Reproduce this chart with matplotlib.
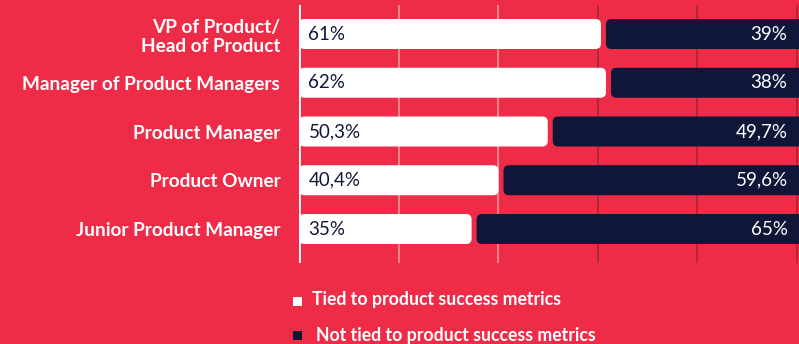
import matplotlib.pyplot as plt
from matplotlib.patches import FancyBboxPatch, Rectangle

categories = ["VP of Product/\nHead of Product", "Manager of Product Managers",
              "Product Manager", "Product Owner", "Junior Product Manager"]
tied = [61, 62, 50.3, 40.4, 35]
not_tied = [39, 38, 49.7, 59.6, 65]
tied_labels = ["61%", "62%", "50,3%", "40,4%", "35%"]
not_tied_labels = ["39%", "38%", "49,7%", "59,6%", "65%"]

RED = "#EE2C48"
NAVY = "#0F1638"

plt.rcParams['font.family'] = ['Lato', 'DejaVu Sans']

fig = plt.figure(figsize=(7.99, 3.44), dpi=100)
fig.patch.set_facecolor(RED)
ax = fig.add_axes([299 / 799, 1 - 263 / 344, 500 / 799, 258 / 344])
ax.set_facecolor(RED)
ax.set_xlim(0, 100.5)
ax.set_ylim(4.697, -0.595)

# gridlines
for g in [20, 40]:
    ax.axvline(g, color="#F7939F", lw=1.2, zorder=0)
for g in [60, 80, 100]:
    ax.axvline(g, color="#A3263E", lw=1.2, zorder=0)
ax.axvline(0, color="white", lw=2, zorder=3)

h = 0.615
asp = (1 / 48.75) / (1 / 4.975)
for i, (t, n) in enumerate(zip(tied, not_tied)):
    ax.add_patch(FancyBboxPatch((0, i - h / 2), t - 0.3, h,
                                boxstyle="round,pad=0,rounding_size=1.1",
                                mutation_aspect=asp, fc="white", ec="none", zorder=2))
    ax.add_patch(FancyBboxPatch((t + 0.7, i - h / 2), n + 3, h,
                                boxstyle="round,pad=0,rounding_size=1.1",
                                mutation_aspect=asp, fc=NAVY, ec="none", zorder=2))
    ax.text(1.9, i, tied_labels[i], color=NAVY, fontsize=13.5,
            va="center", ha="left", zorder=4)
    ax.text(98.2, i, not_tied_labels[i], color="white", fontsize=13.5,
            va="center", ha="right", zorder=4)

ax.set_yticks(range(len(categories)))
ax.set_yticklabels(categories, color="white", fontsize=13.7, fontweight="bold")
ax.tick_params(axis="y", length=0, pad=13.5)
ax.set_xticks([])
for s in ax.spines.values():
    s.set_visible(False)

# legend
fig.patches.append(Rectangle((293 / 799, 1 - 306 / 344), 9 / 799, 9 / 344,
                             transform=fig.transFigure, fc="white", ec="none"))
fig.text(312 / 799, 1 - 300 / 344, "Tied to product success metrics",
         color="white", fontsize=12.7, fontweight="bold", va="center", ha="left")
fig.patches.append(Rectangle((293 / 799, 1 - 340 / 344), 9 / 799, 9 / 344,
                             transform=fig.transFigure, fc=NAVY, ec="none"))
fig.text(316 / 799, 1 - 335 / 344, "Not tied to product success metrics",
         color="white", fontsize=12.7, fontweight="bold", va="center", ha="left")

fig.savefig("out.png", dpi=100, facecolor=RED)
